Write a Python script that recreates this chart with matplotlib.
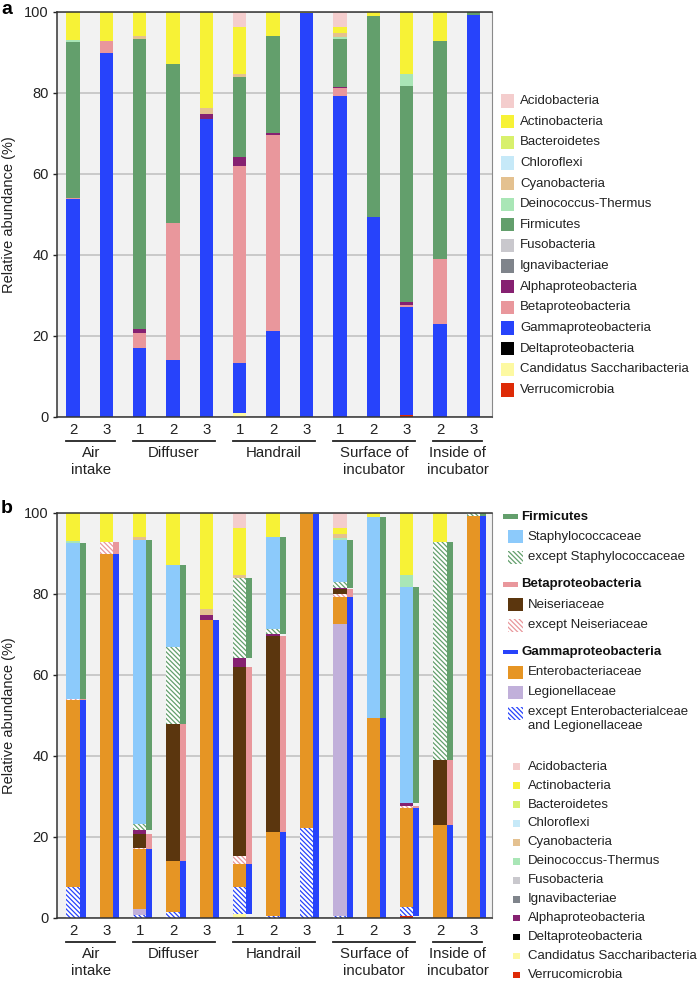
import numpy as np
import matplotlib.pyplot as plt
from matplotlib.patches import Rectangle

plt.rcParams['font.family'] = ['Liberation Sans', 'DejaVu Sans']
plt.rcParams['hatch.linewidth'] = 0.9

W, H = 697, 984

# sample labels and sites
samples = ['2', '3', '1', '2', '3', '1', '2', '3', '1', '2', '3', '2', '3']
group_names = ['Air\nintake', 'Diffuser', 'Handrail', 'Surface of\nincubator', 'Inside of\nincubator']
group_first = [0, 2, 5, 8, 11]
group_last = [1, 4, 7, 10, 12]

# phylum level relative abundance (%)
acidobacteria = [0, 0, 0, 0, 0, 3.9, 0, 0, 3.7, 0, 0, 0, 0]
actinobacteria = [6.9, 7.2, 6.0, 12.8, 23.7, 11.5, 5.9, 0.4, 1.6, 1.0, 15.4, 7.3, 0]
bacteroidetes = [0] * 13
chloroflexi = [0] * 13
cyanobacteria = [0, 0, 0.7, 0, 1.6, 0.6, 0, 0, 1.0, 0, 0, 0, 0]
deinococcus = [0.6, 0, 0, 0, 0, 0, 0, 0, 0.5, 0, 2.9, 0, 0]
firmicutes = [38.5, 0, 71.7, 39.3, 0, 19.8, 24.0, 0, 11.7, 49.6, 53.3, 53.8, 0.7]
fusobacteria = [0] * 13
ignavibacteriae = [0] * 13
alphaproteo = [0, 0, 0.9, 0, 1.3, 2.3, 0.6, 0, 0.3, 0, 0.8, 0, 0]
betaproteo = [0.3, 3.1, 3.8, 34.0, 0, 48.6, 48.3, 0, 1.9, 0, 0.6, 16.0, 0]
gammaproteo = [53.7, 89.7, 16.9, 13.9, 73.4, 12.5, 21.2, 99.6, 79.3, 49.4, 26.7, 22.9, 99.3]
deltaproteo = [0] * 13
saccharibacteria = [0, 0, 0, 0, 0, 0.8, 0, 0, 0, 0, 0, 0, 0]
verrucomicrobia = [0, 0, 0, 0, 0, 0, 0, 0, 0, 0, 0.3, 0, 0]

# family level split (%)
staphylococcaceae = [38.5, 0, 70.1, 20.3, 0, 0, 22.7, 0, 10.2, 49.6, 53.3, 0, 0]
except_staph = [0, 0, 1.6, 19.0, 0, 19.8, 1.3, 0, 1.5, 0, 0, 53.8, 0.7]
neisseriaceae = [0, 0, 3.5, 34.0, 0, 46.7, 48.3, 0, 1.2, 0, 0, 16.0, 0]
except_neis = [0.3, 3.1, 0.3, 0, 0, 1.9, 0, 0, 0.7, 0, 0.6, 0, 0]
enterobacteriaceae = [46.1, 89.7, 14.8, 12.4, 73.4, 5.7, 20.7, 77.5, 6.9, 49.4, 24.4, 22.9, 99.3]
legionellaceae = [0, 0, 1.5, 0, 0, 0, 0, 0, 71.9, 0, 0, 0, 0]
except_ent_leg = [7.6, 0, 0.6, 1.5, 0, 6.8, 0.5, 22.1, 0.5, 0, 2.3, 0, 0]

phyla = [
    ('Acidobacteria', acidobacteria, '#f4cdcd'),
    ('Actinobacteria', actinobacteria, '#f7f236'),
    ('Bacteroidetes', bacteroidetes, '#d8f06c'),
    ('Chloroflexi', chloroflexi, '#c6e9f8'),
    ('Cyanobacteria', cyanobacteria, '#e4c190'),
    ('Deinococcus-Thermus', deinococcus, '#a9e6b6'),
    ('Firmicutes', firmicutes, '#639f6c'),
    ('Fusobacteria', fusobacteria, '#c9c8cd'),
    ('Ignavibacteriae', ignavibacteriae, '#7f848b'),
    ('Alphaproteobacteria', alphaproteo, '#862171'),
    ('Betaproteobacteria', betaproteo, '#e9979c'),
    ('Gammaproteobacteria', gammaproteo, '#2743fb'),
    ('Deltaproteobacteria', deltaproteo, '#000000'),
    ('Candidatus Saccharibacteria', saccharibacteria, '#fdf9a2'),
    ('Verrucomicrobia', verrucomicrobia, '#de2a06'),
]
col = {n: c for n, v, c in phyla}
val = {n: np.array(v, float) for n, v, c in phyla}
c_staph, c_neis, c_ent, c_leg = '#8ccafb', '#5b360e', '#e69524', '#c1b0da'
HATCH = '\\' * 7

x = np.arange(len(samples))
BW = 0.4


def fx(px):
    return px / W


def fy(py):
    return 1 - py / H


def style_axes(ax):
    ax.set_facecolor('#f2f2f2')
    ax.set_xlim(-0.48, 12.56)
    ax.set_ylim(0, 100)
    ax.set_yticks([0, 20, 40, 60, 80, 100])
    ax.yaxis.grid(True, color='#c6c6c6', lw=1.3)
    ax.set_axisbelow(True)
    ax.set_xticks([])
    ax.tick_params(axis='y', length=3, width=1, pad=3, labelsize=10.5, colors='#222222')
    for s in ['left', 'bottom', 'top']:
        ax.spines[s].set_color('#333333')
        ax.spines[s].set_linewidth(1.1)
    ax.spines['right'].set_color('#8a8a8a')
    trans = ax.get_xaxis_transform()
    for i, s in enumerate(samples):
        ax.annotate(s, xy=(x[i], 0), xycoords=trans, xytext=(0, -9.8), textcoords='offset points',
                    ha='center', va='center', fontsize=10.8, color='#222222')
    for name, a, b in zip(group_names, group_first, group_last):
        yl = -24.7 / 405
        ax.plot([x[a] - 0.2, x[b] + 0.26], [yl, yl], transform=trans, clip_on=False, color='#222222', lw=1.3)
        ax.annotate(name, xy=((x[a] + x[b]) / 2 + 0.03, 0), xycoords=trans, xytext=(0, -21), textcoords='offset points',
                    ha='center', va='top', fontsize=10.8, color='#222222', linespacing=1.25)


fig = plt.figure(figsize=(W / 100, H / 100), dpi=100)
ax1 = fig.add_axes([fx(57), fy(416.7), fx(492) - fx(57), 405 / H])
ax2 = fig.add_axes([fx(57), fy(917.7), fx(492) - fx(57), 405 / H])

# panel a: phylum stacks, bottom-up is reversed legend order
bottom = np.zeros(len(x))
for n, v, c in phyla[::-1]:
    ax1.bar(x, val[n], BW, bottom=bottom, color=c, linewidth=0)
    bottom += val[n]
style_axes(ax1)

# panel b: family level stacks plus thin phylum bars
layers = [
    (verrucomicrobia, col['Verrucomicrobia'], None),
    (saccharibacteria, col['Candidatus Saccharibacteria'], None),
    (deltaproteo, col['Deltaproteobacteria'], None),
    (except_ent_leg, col['Gammaproteobacteria'], HATCH),
    (legionellaceae, c_leg, None),
    (enterobacteriaceae, c_ent, None),
    (except_neis, col['Betaproteobacteria'], HATCH),
    (neisseriaceae, c_neis, None),
    (alphaproteo, col['Alphaproteobacteria'], None),
    (ignavibacteriae, col['Ignavibacteriae'], None),
    (fusobacteria, col['Fusobacteria'], None),
    (except_staph, col['Firmicutes'], HATCH),
    (staphylococcaceae, c_staph, None),
    (deinococcus, col['Deinococcus-Thermus'], None),
    (cyanobacteria, col['Cyanobacteria'], None),
    (chloroflexi, col['Chloroflexi'], None),
    (bacteroidetes, col['Bacteroidetes'], None),
    (actinobacteria, col['Actinobacteria'], None),
    (acidobacteria, col['Acidobacteria'], None),
]
bottom = np.zeros(len(x))
for v, c, h in layers:
    v = np.array(v, float)
    if h:
        ax2.bar(x, v, BW, bottom=bottom, color='white', edgecolor=c, hatch=h, linewidth=0)
    else:
        ax2.bar(x, v, BW, bottom=bottom, color=c, linewidth=0)
    bottom += v

base = val['Verrucomicrobia'] + val['Candidatus Saccharibacteria'] + val['Deltaproteobacteria']
g_b = base
b_b = g_b + val['Gammaproteobacteria']
f_b = b_b + val['Betaproteobacteria'] + val['Alphaproteobacteria'] + val['Ignavibacteriae'] + val['Fusobacteria']
for n, b0 in [('Gammaproteobacteria', g_b), ('Betaproteobacteria', b_b), ('Firmicutes', f_b)]:
    ax2.bar(x + BW / 2, val[n], 0.18, bottom=b0, align='edge', color=col[n], linewidth=0)
style_axes(ax2)

# y labels and panel letters
for yc in [214.2, 715.2]:
    fig.text(fx(9), fy(yc), 'Relative abundance (%)', rotation=90, ha='center', va='center', fontsize=10.5, color='#222222')
fig.text(fx(1), fy(1), 'a', fontsize=14, fontweight='bold', va='top')
fig.text(fx(1), fy(513), 'b', fontsize=14, fontweight='bold', va='baseline')


def patch(px, py, w, h, color, hatch=None):
    if hatch:
        r = Rectangle((fx(px), fy(py + h / 2)), w / W, h / H, transform=fig.transFigure,
                      facecolor='white', edgecolor=color, hatch=hatch, linewidth=0)
    else:
        r = Rectangle((fx(px), fy(py + h / 2)), w / W, h / H, transform=fig.transFigure,
                      facecolor=color, linewidth=0)
    fig.add_artist(r)


# legend a
for i, (n, v, c) in enumerate(phyla):
    yc = 101 + 20.64 * i
    patch(501, yc, 13.3, 13.3, c)
    fig.text(fx(520), fy(yc), n, fontsize=9.5, va='center', color='#222222')

# legend b, family groups
groups_b = [
    ('Firmicutes', 516.7, [('Staphylococcaceae', 536.7, c_staph, None),
                            ('except Staphylococcaceae', 557.3, col['Firmicutes'], HATCH)]),
    ('Betaproteobacteria', 584.3, [('Neiseriaceae', 604.7, c_neis, None),
                                    ('except Neiseriaceae', 625.3, col['Betaproteobacteria'], HATCH)]),
    ('Gammaproteobacteria', 652.0, [('Enterobacteriaceae', 672.3, c_ent, None),
                                     ('Legionellaceae', 692.3, c_leg, None),
                                     ('except Enterobacterialceae\nand Legionellaceae', 713.3, col['Gammaproteobacteria'], HATCH)]),
]
for head, yh, items in groups_b:
    patch(503, yh, 15, 4.5, col[head])
    fig.text(fx(521.5), fy(yh), head, fontsize=9.5, fontweight='bold', va='center', color='#111111')
    for lab, yi, c, h in items:
        patch(508.3, yi, 14.4, 13.3, c, h)
        if '\n' in lab:
            fig.text(fx(527.7), fy(yi - 7.5), lab, fontsize=9.5, va='top', color='#222222', linespacing=1.2)
        else:
            fig.text(fx(527.7), fy(yi), lab, fontsize=9.5, va='center', color='#222222')

# legend b, other phyla
others = [p for p in phyla if p[0] not in ('Firmicutes', 'Betaproteobacteria', 'Gammaproteobacteria')]
for i, (n, v, c) in enumerate(others):
    yc = 766.7 + 18.93 * i
    patch(513, yc, 6.7, 6.7, c)
    fig.text(fx(527.7), fy(yc), n, fontsize=9.5, va='center', color='#222222')

fig.savefig('out.png', dpi=100)
